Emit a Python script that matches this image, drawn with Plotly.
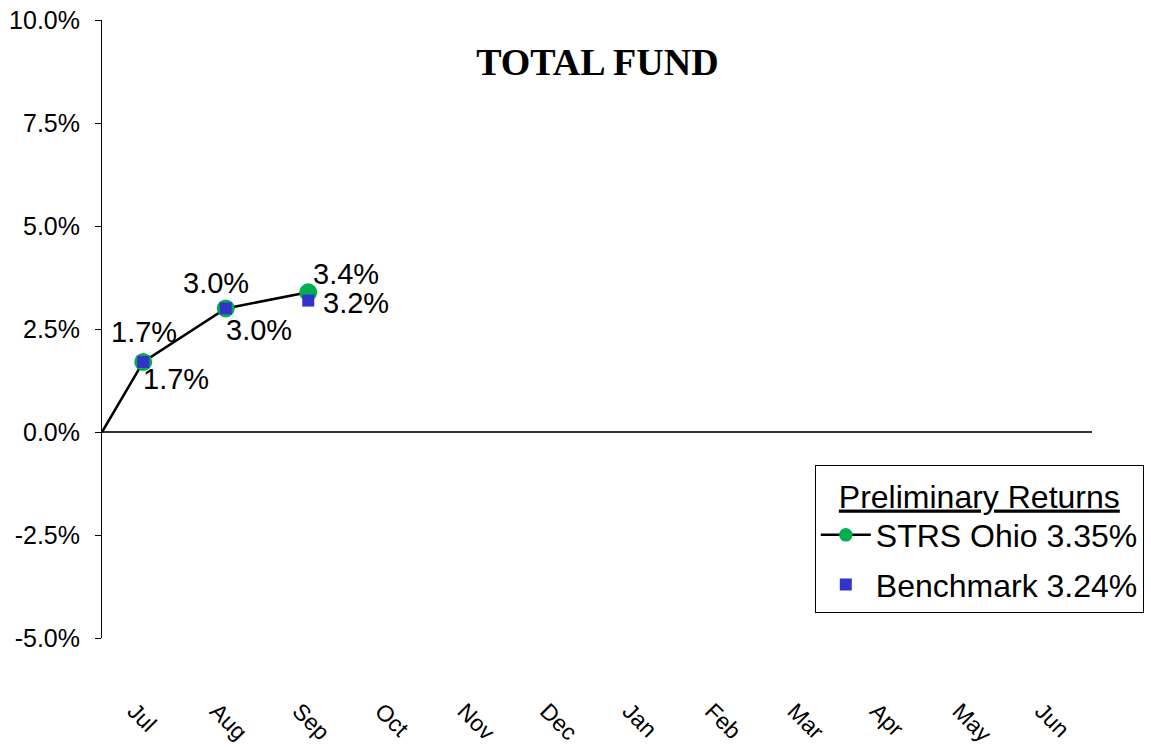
import plotly.graph_objects as go

# Fiscal-year months and cumulative returns (%)
months = ["Jul", "Aug", "Sep", "Oct", "Nov", "Dec",
          "Jan", "Feb", "Mar", "Apr", "May", "Jun"]
strs_returns = [1.7, 3.0, 3.39]
bench_returns = [1.7, 3.0, 3.19]
start_value = 0.0

# Y-axis ticks (%)
y_ticks = [-5.0, -2.5, 0.0, 2.5, 5.0, 7.5, 10.0]
y_tick_text = [f"{v:.1f}%" for v in y_ticks]

strs_name = "STRS Ohio 3.35%"
bench_name = "Benchmark 3.24%"
legend_title = "Preliminary Returns"
chart_title = "TOTAL FUND"

GREEN = "#00B050"
BLUE = "#3333CC"
FONT = "Liberation Sans, Arial, sans-serif"

month_idx = list(range(len(months)))
n_done = len(strs_returns)

# Cumulative path starts at the y-axis (fiscal-year start) with value 0
path_x = [-0.5] + month_idx[:n_done]
path_y = [start_value] + strs_returns

fig = go.Figure()

fig.add_trace(go.Scatter(
    x=path_x, y=path_y, mode="lines+markers", name=strs_name,
    legendgroup="strs",
    line=dict(color="black", width=2.5),
    marker=dict(color=GREEN, size=[0] + [18] * n_done, symbol="circle",
                opacity=1, line=dict(width=0)),
))

fig.add_trace(go.Scatter(
    x=month_idx[:n_done], y=bench_returns, mode="markers", name=bench_name,
    legendgroup="bench",
    marker=dict(color=BLUE, size=12, symbol="square", opacity=1,
                line=dict(width=0)),
))

# Value labels (pixel offsets from each point)
strs_offsets = [(1, -30), (-10, -25), (38, -18)]
bench_offsets = [(33, 17), (33, 22), (48, 2)]
for i, v in enumerate(strs_returns):
    dx, dy = strs_offsets[i]
    fig.add_annotation(x=i, y=v, text=f"{v:.1f}%", showarrow=False,
                       xshift=dx, yshift=-dy,
                       font=dict(family=FONT, size=29, color="black"))
for i, v in enumerate(bench_returns):
    dx, dy = bench_offsets[i]
    fig.add_annotation(x=i, y=v, text=f"{v:.1f}%", showarrow=False,
                       xshift=dx, yshift=-dy,
                       font=dict(family=FONT, size=29, color="black"))

fig.update_layout(
    width=1151, height=747,
    margin=dict(l=102, r=59, t=20, b=109, autoexpand=False),
    paper_bgcolor="white", plot_bgcolor="white",
    title=dict(text=f"<b>{chart_title}</b>", x=0.519, xanchor="center",
               y=1 - 62 / 747, yanchor="middle", yref="container",
               font=dict(family="Liberation Serif, Times New Roman, serif",
                         size=38, color="black")),
    font=dict(family=FONT, color="black"),
    showlegend=True,
    hovermode=False,
    legend=dict(
        x=0.72, y=0.28, xanchor="left", yanchor="top",
        bgcolor="white", bordercolor="black", borderwidth=1,
        font=dict(family=FONT, size=32, color="black"),
        title=dict(text=f"<u>{legend_title}</u>", side="top center",
                   font=dict(family=FONT, size=32, color="black")),
        itemwidth=50, tracegroupgap=5,
    ),
)

fig.update_xaxes(
    range=[-0.5, len(months) - 0.5],
    tickmode="array", tickvals=month_idx, ticktext=months,
    tickangle=45, ticklabelstandoff=54, ticklabelshift=-9,
    tickfont=dict(family=FONT, size=23, color="black"),
    showline=False, showgrid=False, zeroline=False, ticks="",
    automargin=False,
)

fig.update_yaxes(
    range=[-5, 10],
    tickmode="array", tickvals=y_ticks, ticktext=y_tick_text,
    tickfont=dict(family=FONT, size=25, color="black"),
    ticklabelstandoff=10,
    showline=True, linecolor="black", linewidth=1,
    ticks="outside", ticklen=6, tickcolor="black", tickwidth=1,
    showgrid=False, automargin=False,
    zeroline=True, zerolinecolor="#333333", zerolinewidth=1.5,
)

fig.write_html("out.html")
